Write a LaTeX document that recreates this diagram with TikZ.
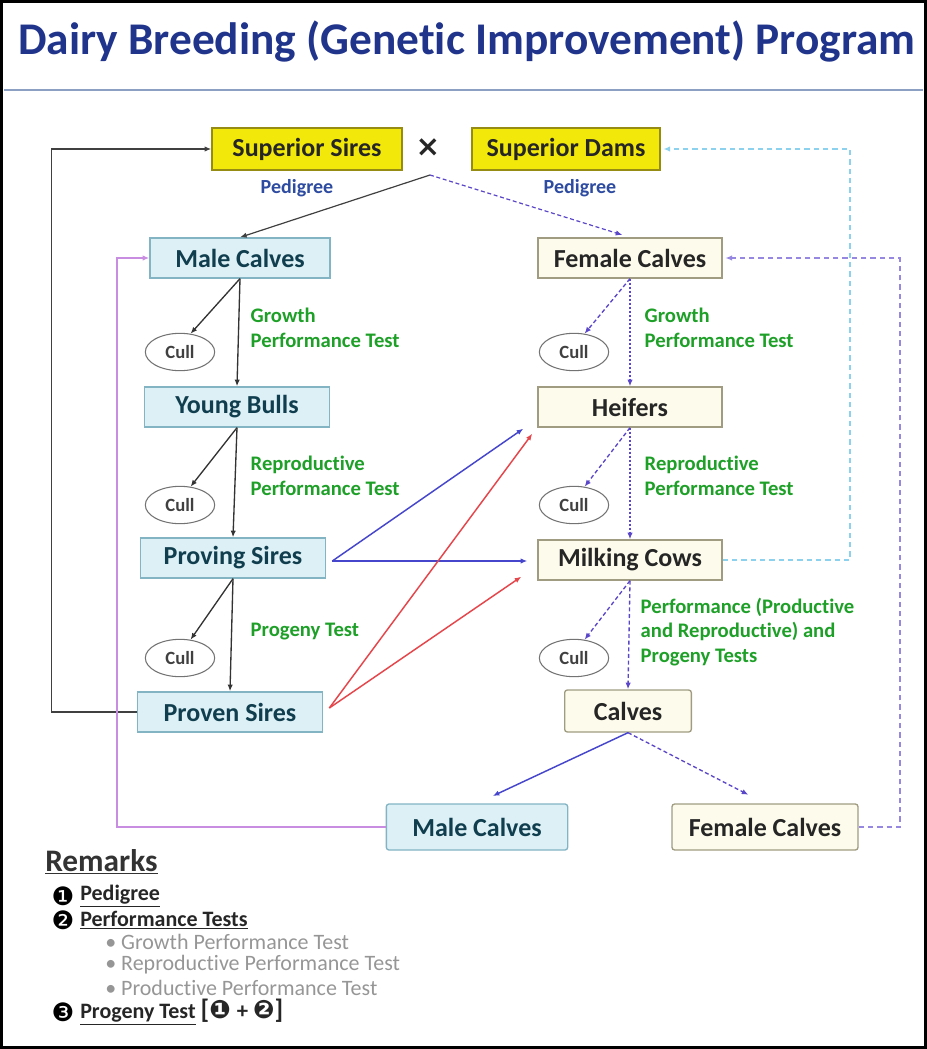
\documentclass[tikz,border=0pt]{standalone}
\usepackage{fontspec}
\setmainfont{Carlito}[Ligatures=NoCommon]
\newfontfamily\dejavu{DejaVu Sans}
\usetikzlibrary{arrows.meta,calc,shapes.geometric}
\definecolor{titleblue}{RGB}{32,52,140}
\definecolor{sepline}{RGB}{140,160,195}
\definecolor{yfill}{RGB}{242,232,10}
\definecolor{ybord}{RGB}{150,140,20}
\definecolor{bfill}{RGB}{220,240,246}
\definecolor{bbord}{RGB}{130,180,196}
\definecolor{btext}{RGB}{16,62,78}
\definecolor{cfill}{RGB}{253,252,236}
\definecolor{cbord}{RGB}{160,156,130}
\definecolor{tgreen}{RGB}{30,160,40}
\definecolor{pblue}{RGB}{45,75,160}
\definecolor{purp}{RGB}{90,70,200}
\definecolor{bluearr}{RGB}{70,70,205}
\definecolor{redarr}{RGB}{228,70,75}
\definecolor{violet}{RGB}{200,140,225}
\definecolor{cyanl}{RGB}{140,210,238}
\definecolor{purpl}{RGB}{150,135,225}
\definecolor{remgray}{RGB}{150,150,150}
\begin{document}
\begin{tikzpicture}[x=0.75pt,y=-0.75pt,
  box/.style={draw, line width=1pt, inner sep=0pt, font=\bfseries\fontsize{19.5}{22}\selectfont, minimum height=30pt},
  ybox/.style={box, draw=ybord, fill=yfill, text=black!85, minimum height=31.5pt},
  bbox/.style={box, draw=bbord, fill=bfill, text=btext},
  cbox/.style={box, draw=cbord, fill=cfill, text=black!85},
  cull/.style={ellipse, draw=black!55, line width=0.8pt, minimum width=52pt, minimum height=28pt, inner sep=0pt, font=\bfseries\fontsize{14}{16}\selectfont, text=black!75},
  glabel/.style={text=tgreen, font=\bfseries\fontsize{15.5}{18.5}\selectfont, align=left, anchor=west},
  plabel/.style={text=pblue, font=\bfseries\fontsize{15}{16}\selectfont},
  tip/.style={-{Latex[length=5pt,width=4pt]}},
  blk/.style={tip, draw=black!80, line width=1pt},
  pdash/.style={tip, draw=purp, line width=1pt, dash pattern=on 3pt off 2pt},
  pdot/.style={tip, draw=purp, line width=1.1pt, dash pattern=on 1.5pt off 1.5pt},
  barr/.style={tip, draw=bluearr, line width=1.1pt},
  rarr/.style={tip, draw=redarr, line width=1.1pt},
  remtext/.style={anchor=west, inner sep=0pt, font=\bfseries\fontsize{16.5}{18}\selectfont, text=black!85},
  graytext/.style={anchor=west, inner sep=0pt, font=\fontsize{16.5}{18}\selectfont, text=remgray},
  numtext/.style={anchor=center, inner sep=0pt, font=\dejavu\fontsize{19}{19}\selectfont}
]
\useasboundingbox (0,0) rectangle (927,1049);
\draw[line width=2.25pt] (1.5,1.5) rectangle (925.5,1047.5);
\draw[sepline, line width=1.5pt] (4,90) -- (923,90);
\node[text=titleblue, font=\bfseries\fontsize{34}{38}\selectfont] (title) at (467,42) {Dairy Breeding (Genetic Improvement) Program};

% top row
\node[ybox, minimum width=142.5pt] (ss) at (307,149) {Superior Sires};
\node[font=\dejavu\bfseries\fontsize{22}{22}\selectfont, text=black!85] (x) at (428,148) {×};
\node[ybox, minimum width=141pt] (sd) at (566,149) {Superior Dams};
\coordinate (cross) at (430,175);
\node[plabel] (ped1) at (297,188) {Pedigree};
\node[plabel] (ped2) at (580,188) {Pedigree};

% left column
\node[bbox, minimum width=135pt] (mcT) at (240,258) {Male Calves};
\node[bbox, minimum width=139pt] (yb) at (237,407) {Young Bulls};
\node[bbox, minimum width=139pt] (ps) at (233,558) {Proving Sires};
\node[bbox, minimum width=139pt] (pv) at (230,712) {Proven Sires};
\node[cull] (c1) at (180,352) {Cull};
\node[cull] (c2) at (180,505) {Cull};
\node[cull] (c3) at (180,658) {Cull};

% right column
\node[cbox, minimum width=138pt] (fcT) at (630,258) {Female Calves};
\node[cbox, minimum width=138pt] (hf) at (630,407) {Heifers};
\node[cbox, minimum width=138pt] (mk) at (630,560) {Milking Cows};
\node[cbox, minimum width=95pt, minimum height=31.5pt, rounded corners=2pt] (cv) at (628,711) {Calves};
\node[cull] (c4) at (574,352) {Cull};
\node[cull] (c5) at (574,505) {Cull};
\node[cull] (c6) at (574,658) {Cull};

% bottom
\node[bbox, minimum width=136pt, minimum height=34.5pt, rounded corners=2pt] (mb) at (477,827) {Male Calves};
\node[cbox, minimum width=139.5pt, minimum height=34.5pt, rounded corners=2pt] (fb) at (765,827) {Female Calves};

% green labels
\node[glabel] (g1) at (246,328) {Growth\\Performance Test};
\node[glabel] (g2) at (246,476) {Reproductive\\Performance Test};
\node[glabel] (g3) at (246,632) {Progeny Test};
\node[glabel] (g4) at (640,328) {Growth\\Performance Test};
\node[glabel] (g5) at (640,476) {Reproductive\\Performance Test};
\node[glabel] (g6) at (636,632) {Performance (Productive\\and Reproductive) and\\Progeny Tests};

% pedigree arrows
\draw[blk, draw=black!75, line width=0.9pt] (cross) -- (mcT.north);
\draw[pdash, line width=0.9pt, shorten >=6pt] (cross) -- (fcT.north);

% left column arrows
\draw[blk] (mcT.south) -- (yb.north);
\draw[blk] (mcT.south) -- (c1.60);
\draw[blk] (yb.south) -- (ps.north);
\draw[blk] (yb.south) -- (c2.60);
\draw[blk] (ps.south) -- (pv.north);
\draw[blk] (ps.south) -- (c3.60);

% right column arrows
\draw[pdot] (fcT.south) -- (hf.north);
\draw[pdash] (fcT.south) -- (c4.60);
\draw[pdot] (hf.south) -- (mk.north);
\draw[pdash] (hf.south) -- (c5.60);
\draw[pdash] (mk.south) -- (cv.north);
\draw[pdash] (mk.south) -- (c6.60);

% sires to females
\draw[barr] ($(ps.east)+(6,3)$) -- ($(hf.south west)+(-14,1)$);
\draw[barr, line width=1.6pt] ($(ps.east)+(6,3)$) -- ($(mk.west)+(-10,1)$);
\draw[rarr] ($(pv.east)+(6,-4)$) -- ($(hf.south west)+(-5,6)$);
\draw[rarr] ($(pv.east)+(6,-4)$) -- ($(mk.south west)+(-16,-4)$);

% calves to bottom
\draw[barr, shorten >=13pt] (cv.south) -- (mb.north);
\draw[pdash, shorten >=14pt] (cv.south) -- (fb.north);

% loops
\draw[blk, line width=1.2pt, draw=black!75] (pv.west) -- ++(-85,0) |- (ss.west);
\coordinate (vl) at (117,827);
\draw[tip, draw=violet, line width=1.2pt] (mb.west) -- (vl) |- (mcT.west);
\coordinate (cy) at (850,560);
\draw[tip, draw=cyanl, line width=2.2pt, dash pattern=on 4pt off 3pt, shorten >=2pt] (mk.east) -- (cy) |- (sd.east);
\coordinate (pr) at (900,827);
\draw[tip, draw=purpl, line width=1.2pt, dash pattern=on 4pt off 3pt, shorten >=2pt] (fb.east) -- (pr) |- (fcT.east);

% remarks
\node[anchor=west, inner sep=0pt, font=\bfseries\fontsize{23.5}{24}\selectfont, text=black!80] (rem) at (45,862) {\underline{Remarks}};
\node[numtext] (n1) at (63,896) {❶};
\node[remtext] (r1) at (80,896) {\underline{Pedigree}};
\node[numtext] (n2) at (63,920) {❷};
\node[remtext] (r2) at (80,920) {\underline{Performance Tests}};
\node[graytext] (b1) at (105,942) {\textbullet\ Growth Performance Test};
\node[graytext] (b2) at (105,965) {\textbullet\ Reproductive Performance Test};
\node[graytext] (b3) at (105,988) {\textbullet\ Productive Performance Test};
\node[numtext] (n3) at (63,1012) {❸};
\node[remtext] (r3) at (80,1012) {\underline{Progeny Test} \fontsize{20}{20}\selectfont[{\dejavu\fontsize{19}{19}\selectfont ❶} \fontsize{17}{18}\selectfont+ {\dejavu\fontsize{19}{19}\selectfont ❷}\fontsize{20}{20}\selectfont]};
\end{tikzpicture}
\end{document}
